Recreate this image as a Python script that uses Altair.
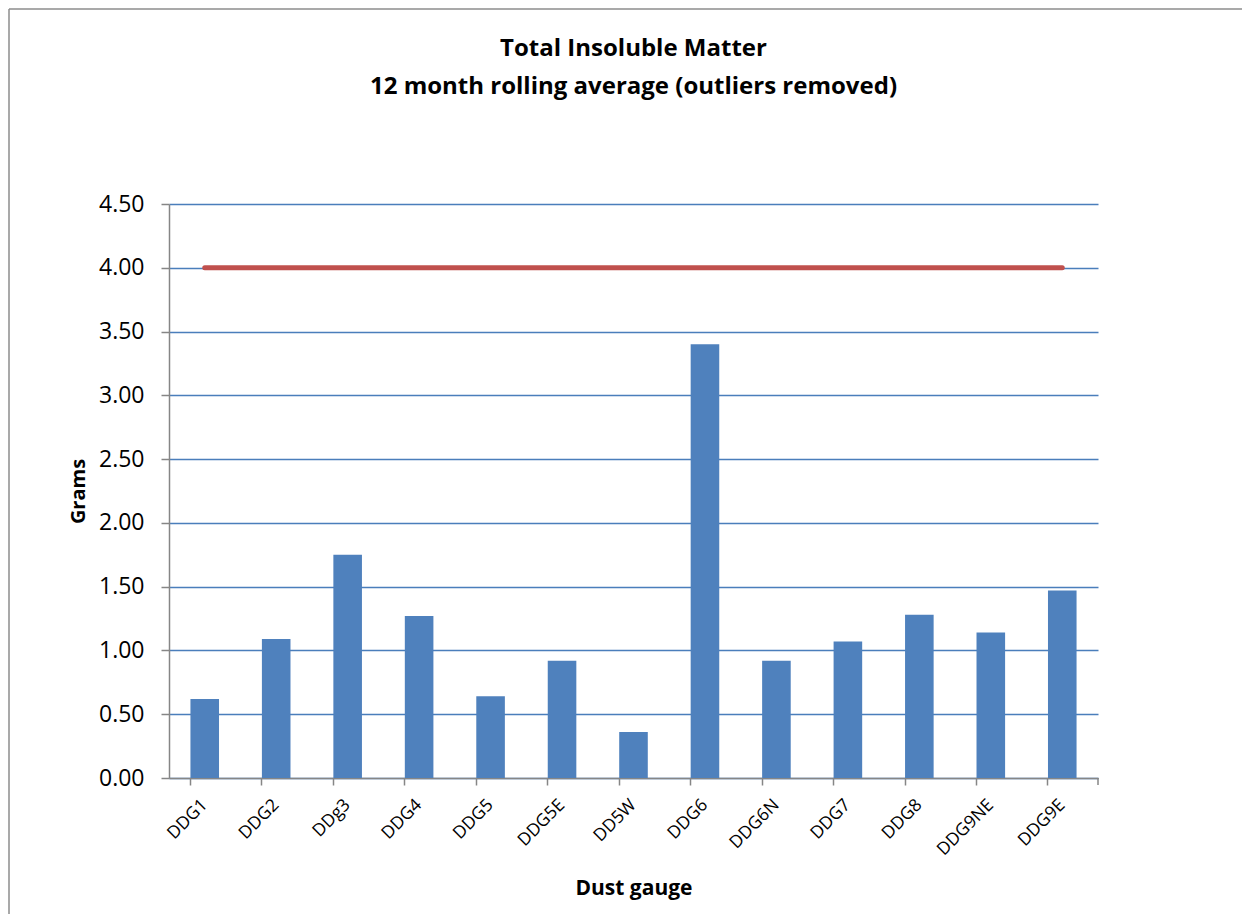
import altair as alt
import pandas as pd

categories = ["DDG1", "DDG2", "DDg3", "DDG4", "DDG5", "DDG5E", "DD5W",
              "DDG6", "DDG6N", "DDG7", "DDG8", "DDG9NE", "DDG9E"]
values = [0.62, 1.09, 1.75, 1.27, 0.64, 0.92, 0.36, 3.40, 0.92, 1.07, 1.28, 1.14, 1.47]
limit = [4.00] * len(categories)
y_ticks = [0.0, 0.5, 1.0, 1.5, 2.0, 2.5, 3.0, 3.5, 4.0, 4.5]

df = pd.DataFrame({"gauge": categories, "grams": values, "limit": limit})

FONT = "Open Sans"
W, H = 929, 574
step = W / len(categories)

xscale = alt.Scale(domain=categories, paddingInner=0.6, paddingOuter=0.3)
yscale = alt.Scale(domain=[0, 4.5], nice=False)

border_left = alt.Chart(alt.Data(values=[{}])).mark_rule(
    color="#8c8c8c", strokeWidth=1.5
).encode(x=alt.value(-160), y=alt.value(-195), y2=alt.value(725))
border_top = alt.Chart(alt.Data(values=[{}])).mark_rule(
    color="#8c8c8c", strokeWidth=1.5
).encode(x=alt.value(-160), x2=alt.value(1085), y=alt.value(-195))

bars = alt.Chart(df).mark_bar(color="#4F81BD").encode(
    x=alt.X("gauge:N", scale=xscale, sort=categories,
            axis=alt.Axis(title="Dust gauge", labelAngle=-45, labelAlign="right",
                          labelBaseline="middle", labelFontSize=17.5, labelPadding=17,
                          bandPosition=0,
                          titleFontSize=21, titleFontWeight="bold", titlePadding=19,
                          tickSize=7, tickColor="#868686", domainColor="#868686",
                          domainWidth=1.5, tickWidth=1.5)),
    y=alt.Y("grams:Q", scale=yscale,
            axis=alt.Axis(title="Grams", values=y_ticks, format=".2f",
                          labelFontSize=23, labelPadding=17, tickSize=8,
                          tickColor="#868686", domainColor="#868686",
                          domainWidth=1.5, tickWidth=1.5,
                          gridColor="#4A7EBB", gridWidth=1.3,
                          titleFontSize=20, titleFontWeight="bold", titlePadding=10))
)

endtick = alt.Chart(alt.Data(values=[{}])).mark_rule(
    color="#868686", strokeWidth=1.5
).encode(x=alt.value(W), y=alt.value(H), y2=alt.value(H + 7))

line = alt.Chart(df).mark_line(color="#C0504D", strokeWidth=5, strokeCap="round").encode(
    x=alt.X("gauge:N", scale=xscale, sort=categories),
    y=alt.Y("limit:Q", scale=yscale)
)

chart = alt.layer(border_left, border_top, bars, line, endtick).properties(
    width=W, height=H,
    padding={"left": 161, "top": 196, "right": 144, "bottom": 136},
    autosize=alt.AutoSizeParams(type="none"),
    title=alt.TitleParams(
        ["Total Insoluble Matter", "12 month rolling average (outliers removed)"],
        fontSize=24, fontWeight="bold", font=FONT, lineHeight=38, offset=0, dy=91,
        color="black", frame="group"
    )
).configure(font=FONT, background="white").configure_axis(
    labelFont=FONT, titleFont=FONT, labelColor="black", titleColor="black"
).configure_view(strokeWidth=0)

chart.save("out.html", embed_options={"renderer": "svg", "actions": False})
